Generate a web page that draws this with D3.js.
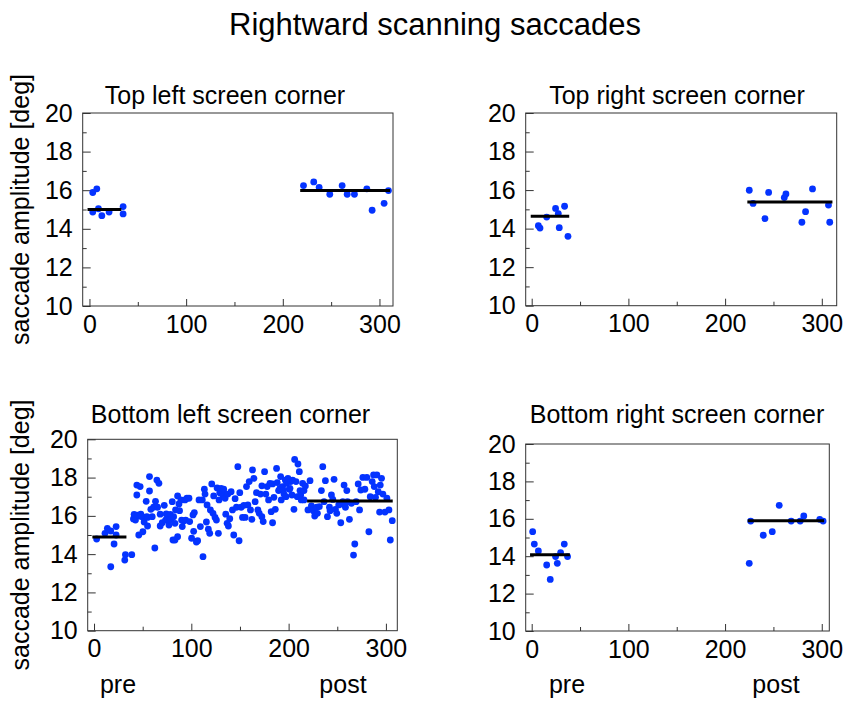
<!DOCTYPE html>
<html>
<head>
<meta charset="utf-8">
<script src="https://cdn.jsdelivr.net/npm/d3@7"></script>
<style>
body { margin: 0; background: #fff; }
text { font-family: Helvetica, Arial, "Liberation Sans", sans-serif; }
</style>
</head>
<body>
<svg width="845" height="702"></svg>
<script>
var mainTitle = "Rightward scanning saccades";
var panelTitles = ["Top left screen corner", "Top right screen corner", "Bottom left screen corner", "Bottom right screen corner"];
var yLabel = "saccade amplitude [deg]";
var phaseLabels = ["pre", "post"];
var xMajor = [0, 100, 200, 300];
var xMinor = [50, 150, 250];
var yMajor = [10, 12, 14, 16, 18, 20];
var yMinor = [11, 13, 15, 17, 19];

// [trial, amplitude]
var topLeftPts = [[3.4,15.88],[7.6,16.07],[3.4,14.87],[9.3,15.04],[12.8,14.68],[20.3,14.87],[34.8,15.15],[34.8,14.77],
	[221.4,16.24],[232,16.43],[237.6,16.15],[248.6,15.79],[261.4,16.24],[266.6,15.79],[274.1,15.79],[286.9,16.07],[292.4,14.96],[304.8,15.32],[309.3,15.98]];
var topRightPts = [[6.9,14.15],[8.6,14.03],[15.5,14.6],[24.7,15.05],[27.5,14.78],[28.5,14.05],[34,15.16],[37.5,13.6],
	[225,15.99],[228.9,15.31],[241.2,14.52],[245,15.88],[261.2,15.61],[262.9,15.8],[279.4,14.33],[283.2,14.88],[290.4,16.06],[306.9,15.22],[308.2,14.33]];
var bottomRightPts = [[1,15.31],[2.7,14.65],[6.9,14.28],[15.5,13.53],[19.2,12.76],[24.7,13.98],[26.5,13.62],[29.9,14.19],[33.7,14.65],[37.1,13.98],
	[225,13.62],[226.5,15.88],[239.5,15.12],[248.8,15.31],[256,16.72],[268.4,15.88],[277.7,15.88],[281.4,16.15],[297.9,15.97],[301.4,15.88]];
var bottomLeftPts = [[2.7,14.79],[11.3,15.09],[13.7,15.35],[17.2,15.21],[17.2,13.34],[20.6,14.53],[22.7,15.44],[22.7,15.0],[31.6,13.69],[32.3,13.97],[38.8,13.97],
	[40.5,15.84],[41.2,16.08],[42.6,15.78],[44,17.61],[44,17.09],[44.7,16.04],[46,15.0],[46.7,15.99],[47.4,17.53],[48.1,16.09],[49.5,15.96],[50.2,15.17],
	[51.5,15.68],[53.6,16.76],[54.3,15.96],[55,15.47],[55,15.92],[57,18.05],[57,17.3],[58.4,16.34],[59.8,15.96],[61.2,16.45],[62.5,14.32],[63.2,16.76],
	[64.6,17.87],[66.7,17.7],[65.3,16.45],[68,16.09],[68,15.47],[70.1,15.64],[72.2,16.55],[73.5,15.78],[74.2,16.1],[75.6,15.82],[77,15.52],[77.7,15.78],
	[78.4,16.08],[79,15.82],[80.4,16.74],[81.1,14.74],[81.8,15.96],[83.2,14.74],[83.2,15.61],[83.8,16.31],[85.9,17.04],[85.9,14.91],[87.3,16.62],
	[87.9,16.27],[89.3,16.83],[90,15.78],[90.7,15.44],[92.1,15.73],[93.5,16.83],[94.2,15.78],[95.5,16.92],[97.6,16.92],[98.3,15.7],[100.3,14.83],
	[101.7,16.05],[102.4,15.19],[103.1,16.17],[105.2,14.63],[106.5,14.7],[107.9,16.83],[109.3,15.44],[111.3,16.83],[112,13.87],[113.4,17.39],
	[114.1,17.14],[115.5,15.68],[116.2,16.57],[117.5,15.3],[118.9,15.09],[119.6,16.31],[121,17.67],[122.3,16.13],[123,17.04],[124.4,15.92],
	[125.8,15.78],[126.5,17.46],[127.8,15.09],[128.5,16.83],[129.2,17.21],[130.6,17.44],[132,17.21],[132.6,17.0],[133.3,17.39],[134.7,16.92],
	[135.4,16.09],[136.8,15.61],[137.5,17.14],[138.1,15.47],[139.5,15.85],[140.9,17.26],[142.3,16.31],[143.6,15.0],[145,16.9],[146.4,16.45],
	[147.8,18.57],[149.1,14.7],[149.8,17.21],[151.2,16.45],[152.6,15.92],[154,16.55],[155.3,15.92],[156.7,17.53],[158.1,16.57],[159.5,17.79],
	[160.8,16.31],[162.2,15.82],[162.9,18.4],[164.3,17.96],[165.6,16.74],[167,17.21],[168.4,16.31],[169.8,16.13],[171.1,17.14],[172.5,15.96],
	[172.5,17.57],[173.9,15.7],[175.3,18.31],[176.6,17.14],[178,17.53],[179.4,16.83],[180.8,17.7],[182.1,16.22],[183.5,15.64],[183.5,17.67],
	[184.9,16.97],[186.3,16.34],[187.6,18.48],[188.3,17.74],[189.7,17.32],[191.1,17.44],[191.8,18.05],[192.4,16.83],[193.8,17.53],[194.5,17.32],
	[195.2,17.14],[196.6,17.87],[197.3,17.0],[198,17.7],[199.3,17.96],[200.7,17.39],[201.4,17.44],[202.1,17.79],[203.4,17.09],[204.1,17.87],
	[205.5,16.34],[206.2,18.95],[207.6,17.79],[208.9,17.0],[209.6,18.71],[211,18.31],[211.7,17.32],[212.4,17.09],[213,16.83],[214.4,17.7],
	[215.8,17.32],[215.8,16.83],[217.2,17.56],[219.9,16.31],[222,17.84],[223.4,16.52],[225.4,16.27],[226.8,15.99],[228.9,16.45],[229.6,16.13],
	[231.6,16.48],[233.7,17.32],[235.1,18.57],[236.4,16.74],[237.8,17.84],[239.9,15.96],[242,16.45],[242.6,16.27],[244,17.09],[245.4,16.86],
	[246.7,17.91],[248.1,16.34],[249.5,16.13],[251.5,16.57],[253.6,15.64],[253.6,16.62],[255.7,16.74],[257,17.61],[258.4,16.45],[259.8,17.32],
	[260.5,16.74],[262.5,15.82],[264.6,16.66],[266.7,13.95],[268,14.53],[269.4,16.74],[271.5,17.67],[272.9,16.31],[274.2,17.35],[276.3,18.01],
	[278.4,17.39],[280.4,18.01],[282.5,15.17],[283.9,17.0],[285.9,17.79],[287.3,18.14],[288,17.53],[289.3,16.97],[290.7,18.14],[292.1,17.26],
	[293.5,16.2],[294.2,17.61],[295.5,17.96],[296.9,17.14],[299,16.2],[301,16.92],[303.1,16.31],[304.5,14.74],[306.5,15.75]];

// mean lines: [from trial, to trial, amplitude]
var topLeftMeans = [[-2, 33, 15.0], [218, 311, 15.98]];
var topRightMeans = [[-1, 38.8, 14.64], [223, 311, 15.38]];
var bottomLeftMeans = [[-1.7, 33.3, 14.9], [219, 307, 16.78]];
var bottomRightMeans = [[-1.7, 39.5, 14.08], [223.4, 302.4, 15.9]];

var svg = d3.select("svg");
var dotColor = "#0433ff";
var fs = 25;

var panels = [
	{title: panelTitles[0], pts: topLeftPts, means: topLeftMeans, box: [82.7, 113, 393, 306], dom: [-7, 314], tx: 225, ty: 104, ylab: true},
	{title: panelTitles[1], pts: topRightPts, means: topRightMeans, box: [525.7, 113, 836.7, 305.7], dom: [-6.2, 315.4], tx: 677, ty: 104},
	{title: panelTitles[2], pts: bottomLeftPts, means: bottomLeftMeans, box: [87.7, 439.3, 397.3, 630.7], dom: [-6.5, 311.7], tx: 230.5, ty: 423, ylab: true, phase: [118, 343]},
	{title: panelTitles[3], pts: bottomRightPts, means: bottomRightMeans, box: [525.7, 444, 829.3, 631], dom: [-6.2, 307.8], tx: 677, ty: 423, phase: [567, 776]}
];

svg.append("text").attr("x", 435).attr("y", 35).attr("text-anchor", "middle")
	.attr("font-size", 31).text(mainTitle);

function drawPanel(p){
	var g = svg.append("g");
	var x = d3.scaleLinear().domain(p.dom).range([p.box[0], p.box[2]]);
	var y = d3.scaleLinear().domain([10, 20]).range([p.box[3], p.box[1]]);

	g.append("rect")
		.attr("x", p.box[0]).attr("y", p.box[1])
		.attr("width", p.box[2] - p.box[0]).attr("height", p.box[3] - p.box[1])
		.attr("fill", "none").attr("stroke", "#333").attr("stroke-width", 1);

	var ax = [
		g.append("g").attr("transform", "translate(0," + p.box[3] + ")")
			.call(d3.axisBottom(x).tickValues(xMajor).tickSizeInner(-7).tickSizeOuter(0).tickPadding(9)),
		g.append("g").attr("transform", "translate(0," + p.box[3] + ")")
			.call(d3.axisBottom(x).tickValues(xMinor).tickSize(-4).tickFormat("")),
		g.append("g").attr("transform", "translate(" + p.box[0] + ",0)")
			.call(d3.axisLeft(y).tickValues(yMajor).tickSizeInner(-8).tickSizeOuter(0).tickPadding(10)),
		g.append("g").attr("transform", "translate(" + p.box[0] + ",0)")
			.call(d3.axisLeft(y).tickValues(yMinor).tickSize(-4).tickFormat(""))
	];
	ax.forEach(function(a){
		a.select(".domain").remove();
		a.selectAll("line").attr("stroke", "#333");
		a.selectAll("text").attr("font-size", fs).attr("fill", "#000")
			.style("font-family", "Helvetica, Arial, 'Liberation Sans', sans-serif");
	});

	g.selectAll("circle").data(p.pts).enter()
		.append("circle")
		.attr("cx", function(d){return x(d[0])})
		.attr("cy", function(d){return y(d[1])})
		.attr("r", 3.4)
		.style("fill", dotColor);

	g.selectAll("line.mean").data(p.means).enter()
		.append("line").attr("class", "mean")
		.attr("x1", function(d){return x(d[0])})
		.attr("x2", function(d){return x(d[1])})
		.attr("y1", function(d){return y(d[2])})
		.attr("y2", function(d){return y(d[2])})
		.attr("stroke", "#000").attr("stroke-width", 3);

	g.append("text").attr("x", p.tx).attr("y", p.ty).attr("text-anchor", "middle")
		.attr("font-size", fs).text(p.title);

	if(p.ylab){
		var cy = (p.box[1] + p.box[3]) / 2;
		g.append("text").attr("transform", "translate(29," + cy + ") rotate(-90)")
			.attr("text-anchor", "middle").attr("font-size", fs).text(yLabel);
	}
	if(p.phase){
		g.selectAll("text.phase").data(phaseLabels).enter()
			.append("text").attr("class", "phase")
			.attr("x", function(d, i){return p.phase[i]})
			.attr("y", 693).attr("text-anchor", "middle")
			.attr("font-size", fs).text(function(d){return d});
	}
}

panels.forEach(drawPanel);
</script>
</body>
</html>
